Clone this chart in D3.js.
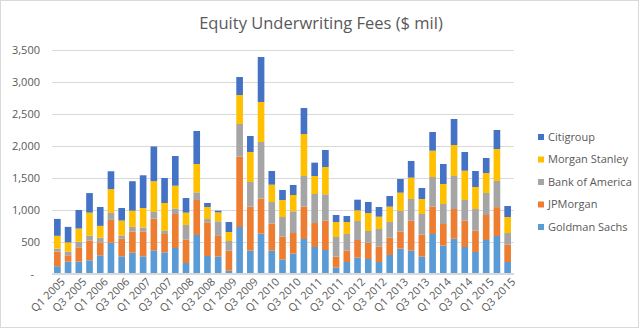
<!DOCTYPE html>
<html>
<head>
<meta charset="utf-8">
<script src="https://cdn.jsdelivr.net/npm/d3@7"></script>
<style>
  body { margin: 0; background: #fff; }
  text { font-family: "Open Sans", "Noto Sans", sans-serif; }
</style>
</head>
<body>
<div id="chart-area"></div>
<script>
// quarters Q1 2005 .. Q3 2015
var quarters = [];
for (var y = 2005; y <= 2015; y++) {
  for (var q = 1; q <= 4; q++) {
    if (y === 2015 && q === 4) break;
    quarters.push("Q" + q + " " + y);
  }
}

var goldman = [114,186,186,207,285,482,269,326,269,363, 331,399,164,603,274,264,44,728,358,624,
  358,217,311,540,415,368,91,180,248,227, 180,290,389,358,264,619,436,545,415,337, 525,587,180];
var jpmorgan = [228,99,223,311,202,357,275,332,389,497, 288,533,366,548,527,325,314,1102,689,548,
  422,360,323,507,376,459,173,178,277,256, 240,271,266,469,344,428,339,465,412,334, 391,452,272];
var bofa = [47,57,88,73,72,109,52,72,62,103, 47,88,230,120,52,228,151,511,386,887,
  340,308,340,480,454,413,308,261,297,183, 277,245,324,340,324,464,313,517,324,339, 345,410,182];
var morganStanley = [201,145,207,362,187,373,233,254,306,482, 438,355,193,444,189,140,141,454,470,627,
  271,266,255,657,282,428,234,187,167,281, 193,241,287,334,235,412,314,485,459,345, 313,501,251];
var citi = [265,243,291,306,295,280,197,461,512,544, 392,465,229,517,62,27,156,282,250,704,
  214,157,157,408,209,266,110,94,167,173, 151,167,214,261,172,293,313,408,293,250, 235,297,172];

var seriesNames = ["Goldman Sachs", "JPMorgan", "Bank of America", "Morgan Stanley", "Citigroup"];
var seriesValues = [goldman, jpmorgan, bofa, morganStanley, citi];
var colors = ["#5B9BD5", "#ED7D31", "#A5A5A5", "#FFC000", "#4472C4"];
var yTicks = [0, 500, 1000, 1500, 2000, 2500, 3000, 3500];

var table = quarters.map(function(d, i) {
  var row = { quarter: d };
  seriesNames.forEach(function(s, j) { row[s] = seriesValues[j][i]; });
  return row;
});

var W = 641, H = 330;
var svg = d3.select("#chart-area").append("svg")
    .attr("width", W)
    .attr("height", H);

svg.append("rect")
    .attr("x", 0.5).attr("y", 0.5)
    .attr("width", W - 3).attr("height", H - 3)
    .attr("fill", "#fff")
    .attr("stroke", "#d9d9d9");

var x = d3.scaleBand()
    .domain(quarters)
    .range([52, 513])
    .paddingInner(0.38)
    .paddingOuter(0.19);

var y = d3.scaleLinear()
    .domain([0, 3500])
    .range([273.5, 50]);

// gridlines
svg.append("g")
  .selectAll("line")
  .data(yTicks)
  .enter().append("line")
    .attr("x1", 52).attr("x2", 514)
    .attr("y1", function(d) { return Math.round(y(d)) + 0.5; })
    .attr("y2", function(d) { return Math.round(y(d)) + 0.5; })
    .attr("stroke", "#d9d9d9");

// y axis labels
var yAxis = d3.axisLeft(y)
    .tickValues(yTicks)
    .tickSize(0)
    .tickPadding(0)
    .tickFormat(function(d) { return d === 0 ? "-" : d3.format(",")(d); });

var gy = svg.append("g")
    .attr("transform", "translate(40,0)")
    .call(yAxis);
gy.select(".domain").remove();
gy.selectAll("text")
    .attr("fill", "#595959")
    .style("font-size", "11px");
gy.selectAll(".tick").filter(function(d) { return d === 0; }).select("text")
    .attr("dx", -6);

// stacked bars
var stack = d3.stack().keys(seriesNames);
var layers = stack(table);

svg.append("g")
  .selectAll("g")
  .data(layers)
  .enter().append("g")
    .attr("fill", function(d, i) { return colors[i]; })
  .selectAll("rect")
  .data(function(d) { return d; })
  .enter().append("rect")
    .attr("x", function(d) { return x(d.data.quarter); })
    .attr("width", x.bandwidth())
    .attr("y", function(d) { return y(d[1]); })
    .attr("height", function(d) { return y(d[0]) - y(d[1]); });

// baseline
svg.append("line")
    .attr("x1", 52).attr("x2", 514)
    .attr("y1", 273.5).attr("y2", 273.5)
    .attr("stroke", "#d9d9d9");

// x axis labels (every other quarter)
var xAxis = d3.axisBottom(x)
    .tickValues(quarters.filter(function(d, i) { return i % 2 === 0; }))
    .tickSize(0)
    .tickPadding(0);

var gx = svg.append("g")
    .attr("transform", "translate(0,277)")
    .call(xAxis);
gx.select(".domain").remove();
gx.selectAll("text")
    .attr("fill", "#595959")
    .style("font-size", "11px")
    .attr("text-anchor", "end")
    .attr("dy", "0.7em")
    .attr("transform", "translate(3,0) rotate(-45)");

// title
svg.append("text")
    .attr("x", 321)
    .attr("y", 29)
    .attr("text-anchor", "middle")
    .attr("fill", "#595959")
    .style("font-size", "16.5px")
    .text("Equity Underwriting Fees ($ mil)");

// legend, Citigroup on top
var legendNames = seriesNames.slice().reverse();
var legendColors = colors.slice().reverse();
var legend = svg.append("g")
  .selectAll("g")
  .data(legendNames)
  .enter().append("g")
    .attr("transform", function(d, i) { return "translate(538," + (137 + i * 22.5) + ")"; });

legend.append("rect")
    .attr("x", 0).attr("y", -3)
    .attr("width", 6).attr("height", 6)
    .attr("fill", function(d, i) { return legendColors[i]; });

legend.append("text")
    .attr("x", 10)
    .attr("y", 0)
    .attr("dy", "0.35em")
    .attr("fill", "#595959")
    .style("font-size", "11px")
    .text(function(d) { return d; });
</script>
</body>
</html>
